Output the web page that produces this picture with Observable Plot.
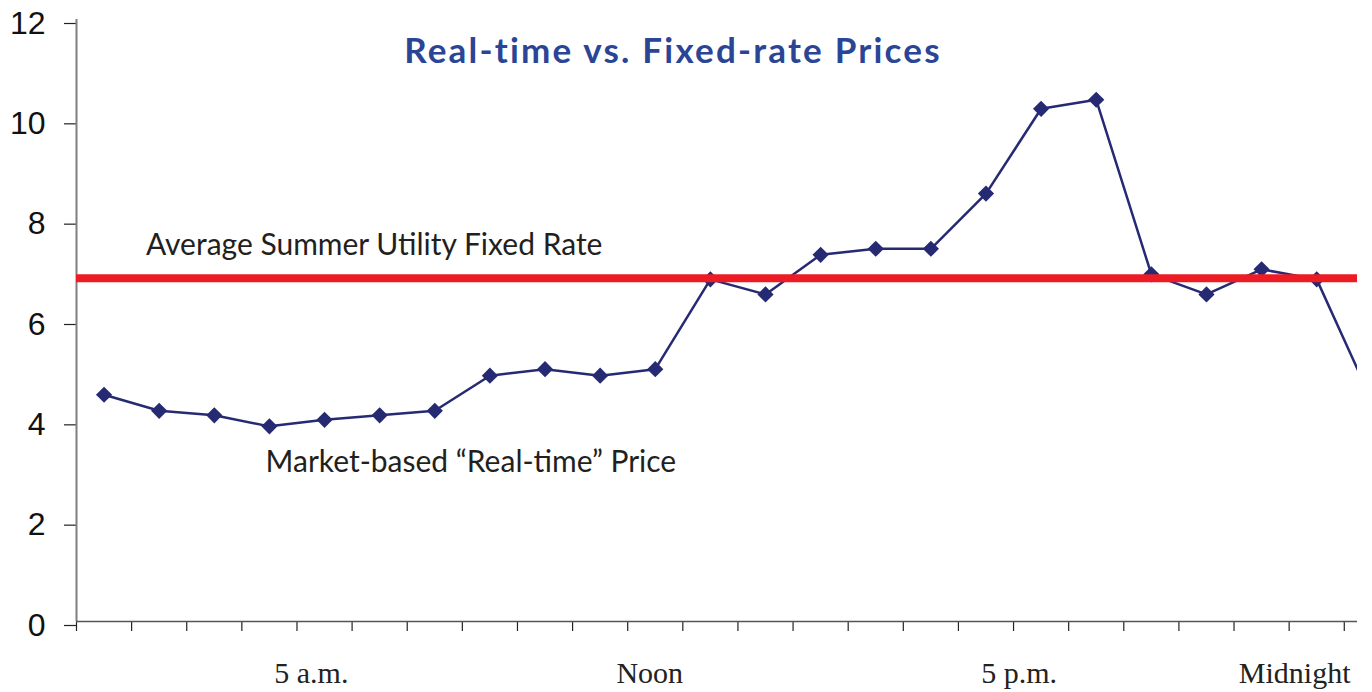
<!DOCTYPE html>
<html>
<head>
<meta charset="utf-8">
<script src="https://cdn.jsdelivr.net/npm/d3@7"></script>
<script src="https://cdn.jsdelivr.net/npm/@observablehq/plot@0.6"></script>
<style>
  html, body { margin: 0; padding: 0; background: #fff; }
  #chart { width: 1372px; height: 692px; overflow: hidden; }
  .chart-title text { letter-spacing: 2.2px; }
</style>
</head>
<body>
<div id="chart"></div>
<script>
// ---- data ----
const hours = [1,2,3,4,5,6,7,8,9,10,11,12,13,14,15,16,17,18,19,20,21,22,23,24];
const realTimePrice = [4.52,4.2,4.11,3.89,4.02,4.11,4.2,4.9,5.03,4.9,5.03,6.82,6.52,7.31,7.43,7.43,8.53,10.22,10.4,6.92,6.52,7.02,6.82,4.4];
const fixedRate = 6.84;
const yTicks = [0,2,4,6,8,10,12];
const xTickHours = [0.5,1.5,2.5,3.5,4.5,5.5,6.5,7.5,8.5,9.5,10.5,11.5,12.5,13.5,14.5,15.5,16.5,17.5,18.5,19.5,20.5,21.5,22.5,23.5];
const xLabels = ["5 a.m.", "Noon", "5 p.m.", "Midnight"];
const xLabelHours = [4.76, 10.9, 17.6, 22.6];
const title = "Real-time vs. Fixed-rate Prices";
const fixedLabel = "Average Summer Utility Fixed Rate";
const priceLabel = "Market-based \u201cReal-time\u201d Price";

const series = hours.map((h, i) => ({hour: h, price: realTimePrice[i]}));
const labelRows = xLabels.map((t, i) => ({text: t, hour: xLabelHours[i]}));

const navy = "#262a73";
const axisGrey = "#7f7f7f";

const chart = Plot.plot({
  width: 1372,
  height: 692,
  marginLeft: 76,
  marginRight: 15,
  marginTop: 19,
  marginBottom: 71,
  style: {background: "#fff", overflow: "visible"},
  x: {domain: [0.5, 23.74], axis: null},
  y: {domain: [0, 12], axis: null},
  marks: [
    // y axis ticks & labels
    Plot.axisY({ticks: yTicks, label: null, tickSize: 12, tickPadding: 19, stroke: "#222", strokeWidth: 1.2,
      fontSize: 32, fontFamily: "Liberation Sans, Arial, sans-serif", fill: "#111", dy: 4}),
    // x tick marks
    Plot.axisX({ticks: xTickHours, label: null, tickSize: 10, tickFormat: () => "", stroke: "#222", strokeWidth: 1.2}),
    // axis lines
    Plot.ruleX([0.5], {stroke: axisGrey, strokeWidth: 2}),
    Plot.ruleY([0], {stroke: "#555", strokeWidth: 1.5}),
    // x labels
    Plot.text(labelRows, {x: "hour", text: "text", frameAnchor: "bottom", dy: 61, lineAnchor: "bottom",
      fontSize: 30, fontFamily: "Liberation Serif, Times New Roman, serif", fill: "#222"}),
    // series
    Plot.line(series, {x: "hour", y: "price", stroke: navy, strokeWidth: 2.5, clip: true}),
    Plot.dot(series, {x: "hour", y: "price", symbol: "diamond2", r: 7.3, fill: navy, stroke: null, clip: true}),
    // fixed rate
    Plot.ruleY([fixedRate], {stroke: "#ed1c24", strokeWidth: 8}),
    // annotations
    Plot.text([fixedLabel], {x: 1.76, y: 7.3, text: d => d, textAnchor: "start", lineAnchor: "bottom",
      fontSize: 30, fontFamily: "Lato, sans-serif", fill: "#231f20"}),
    Plot.text([priceLabel], {x: 3.93, y: 2.99, text: d => d, textAnchor: "start", lineAnchor: "bottom",
      fontSize: 30, fontFamily: "Lato, sans-serif", fill: "#231f20"}),
    // title
    Plot.text([title], {frameAnchor: "top", dx: -44, dy: 43, text: d => d, lineAnchor: "bottom",
      fontSize: 35, fontWeight: "bold", fontFamily: "Lato, sans-serif", fill: "#2b4596", className: "chart-title"})
  ]
});
document.getElementById("chart").appendChild(chart);
</script>
</body>
</html>
